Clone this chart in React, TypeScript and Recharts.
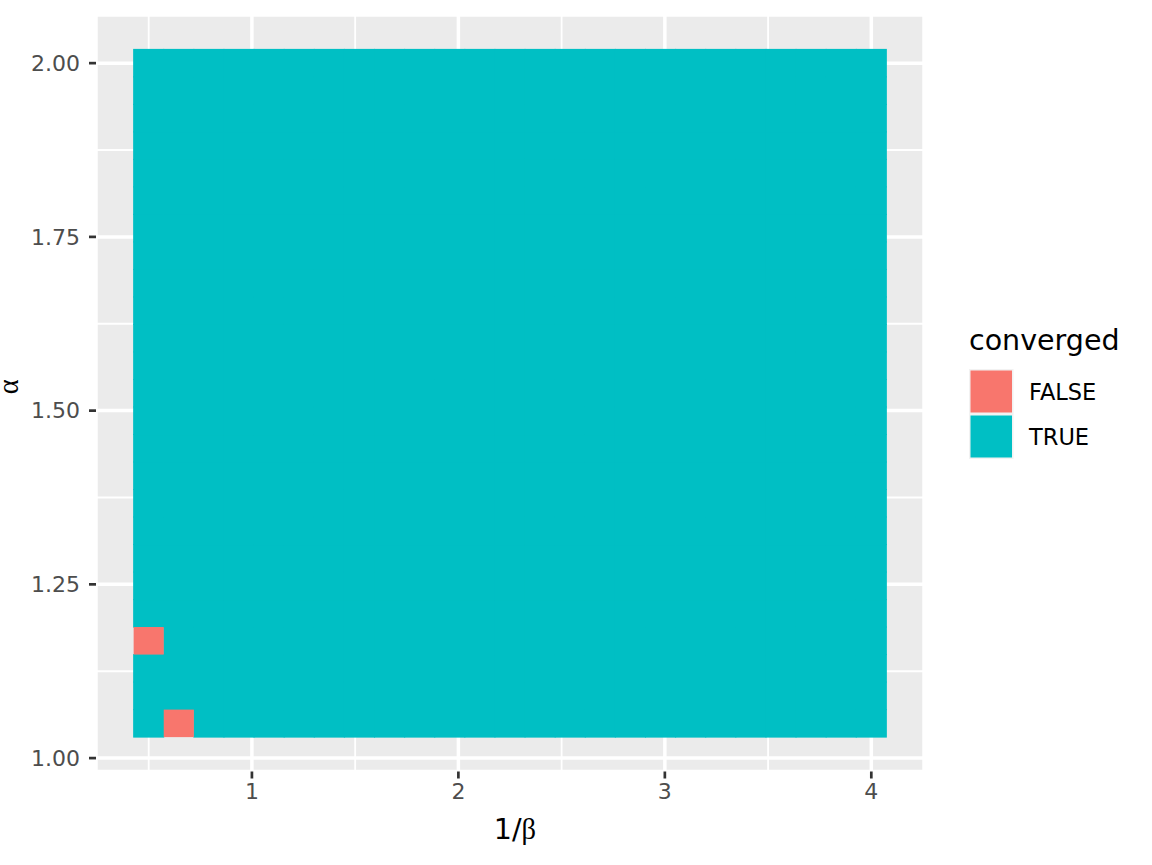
import React from 'react';
import { ScatterChart, Scatter, XAxis, YAxis, CartesianGrid, ReferenceLine } from 'recharts';

// grid of 1/beta and alpha values the tiles sit on
const betaInv = [
  0.5, 0.6458, 0.7917, 0.9375, 1.0833, 1.2292, 1.375, 1.5208, 1.6667, 1.8125, 1.9583, 2.1042, 2.25,
  2.3958, 2.5417, 2.6875, 2.8333, 2.9792, 3.125, 3.2708, 3.4167, 3.5625, 3.7083, 3.8542, 4.0,
];
const alphas = [
  1.05, 1.0896, 1.1292, 1.1688, 1.2083, 1.2479, 1.2875, 1.3271, 1.3667, 1.4063, 1.4458, 1.4854, 1.525,
  1.5646, 1.6042, 1.6438, 1.6833, 1.7229, 1.7625, 1.8021, 1.8417, 1.8813, 1.9208, 1.9604, 2.0,
];
// cells that did not converge [1/beta, alpha]
const notConverged = [
  [0.5, 1.1688],
  [0.6458, 1.05],
];

const xTicks = [1, 2, 3, 4];
const yTicks = [1, 1.25, 1.5, 1.75, 2];
const xMinor = [0.5, 1.5, 2.5, 3.5];
const yMinor = [1.125, 1.375, 1.625, 1.875];

const legendItems = [
  { label: 'FALSE', color: '#F8766D' },
  { label: 'TRUE', color: '#00BFC4' },
];

const FONT = 'DejaVu Sans';
const W = 1152;
const H = 865;
const margin = { top: 15, right: 228, bottom: 0, left: 0 };
const yAxisWidth = 96;
const xAxisHeight = 93.5;

// tile size = grid step (like geom_tile)
const tileW = betaInv[1] - betaInv[0];
const tileH = alphas[1] - alphas[0];

// ggplot-style 5% expansion around the tiles
const xLo = betaInv[0] - tileW / 2;
const xHi = betaInv[betaInv.length - 1] + tileW / 2;
const yLo = alphas[0] - tileH / 2;
const yHi = alphas[alphas.length - 1] + tileH / 2;
const xDomain = [xLo - 0.05 * (xHi - xLo), xHi + 0.05 * (xHi - xLo)];
const yDomain = [yLo - 0.05 * (yHi - yLo), yHi + 0.05 * (yHi - yLo)];

const plotW = W - margin.left - margin.right - yAxisWidth;
const plotH = H - margin.top - margin.bottom - xAxisHeight;
const tilePxW = (tileW / (xDomain[1] - xDomain[0])) * plotW;
const tilePxH = (tileH / (yDomain[1] - yDomain[0])) * plotH;

const isBad = (x: number, y: number) => notConverged.some(([bx, by]) => bx === x && by === y);

const trueTiles: { x: number; y: number }[] = [];
const falseTiles: { x: number; y: number }[] = [];
betaInv.forEach(x => {
  alphas.forEach(y => {
    if (isBad(x, y)) falseTiles.push({ x, y });
    else trueTiles.push({ x, y });
  });
});

// pad > 0 lets neighbouring tiles overlap a little so no seams show
const tileShape = (color: string, pad: number) => (props: any) => (
  <rect
    x={props.cx - tilePxW / 2 - pad}
    y={props.cy - tilePxH / 2 - pad}
    width={tilePxW + 2 * pad}
    height={tilePxH + 2 * pad}
    fill={color}
  />
);

const XTitle = (props: any) => {
  const vb = props.viewBox;
  return (
    <text x={vb.x + vb.width / 2 + 5} y={vb.y + 67.5} textAnchor="middle" fontSize={28.5} fill="#000">
      <tspan fontFamily={FONT}>1/</tspan>
      <tspan fontFamily="Liberation Serif">β</tspan>
    </text>
  );
};

const YTitle = (props: any) => {
  const vb = props.viewBox;
  return (
    <text
      transform={`translate(18, ${vb.y + vb.height / 2 - 6.5}) rotate(-90)`}
      textAnchor="middle"
      fontSize={28.5}
      fontFamily="Liberation Serif"
      fill="#000"
    >
      α
    </text>
  );
};

export default function App() {
  return (
    <div style={{ position: 'absolute', left: 0, top: 0, width: W, height: H, background: '#fff' }}>
      <ScatterChart width={W} height={H} margin={margin}>
        <CartesianGrid fill="#EBEBEB" stroke="#FFFFFF" strokeWidth={3.5} />
        {xMinor.map(v => (
          <ReferenceLine key={'xm' + v} x={v} stroke="#FFFFFF" strokeWidth={1.8} />
        ))}
        {yMinor.map(v => (
          <ReferenceLine key={'ym' + v} y={v} stroke="#FFFFFF" strokeWidth={1.8} />
        ))}
        <XAxis
          type="number"
          dataKey="x"
          domain={xDomain}
          ticks={xTicks}
          interval={0}
          allowDataOverflow
          axisLine={false}
          tickSize={7}
          tickMargin={5}
          tickLine={{ stroke: '#333333', strokeWidth: 2.7 }}
          tick={{ fill: '#4D4D4D', fontSize: 22, fontFamily: FONT }}
          height={xAxisHeight}
          label={{ content: XTitle }}
        />
        <YAxis
          type="number"
          dataKey="y"
          domain={yDomain}
          ticks={yTicks}
          interval={0}
          allowDataOverflow
          axisLine={false}
          tickSize={7}
          tickMargin={9}
          tickLine={{ stroke: '#333333', strokeWidth: 2.7 }}
          tick={{ fill: '#4D4D4D', fontSize: 22, fontFamily: FONT }}
          tickFormatter={(v: number) => v.toFixed(2)}
          width={yAxisWidth}
          label={{ content: YTitle }}
        />
        <Scatter data={trueTiles} shape={tileShape('#00BFC4', 0.5)} isAnimationActive={false} />
        <Scatter data={falseTiles} shape={tileShape('#F8766D', 0)} isAnimationActive={false} />
      </ScatterChart>

      {/* legend, drawn beside the panel like ggplot's */}
      <svg
        width={W}
        height={H}
        style={{ position: 'absolute', left: 0, top: 0, pointerEvents: 'none' }}
      >
        <text x={969} y={350} fontSize={28.5} fontFamily={FONT} fill="#000">
          converged
        </text>
        {legendItems.map((item, i) => (
          <g key={item.label}>
            <rect x={969} y={369 + i * 45} width={44.5} height={45} fill="#F2F2F2" />
            <rect x={970.5} y={370.5 + i * 45} width={41.5} height={42} fill={item.color} />
            <text x={1029} y={399.5 + i * 45} fontSize={22.5} fontFamily={FONT} fill="#000">
              {item.label}
            </text>
          </g>
        ))}
      </svg>
    </div>
  );
}
